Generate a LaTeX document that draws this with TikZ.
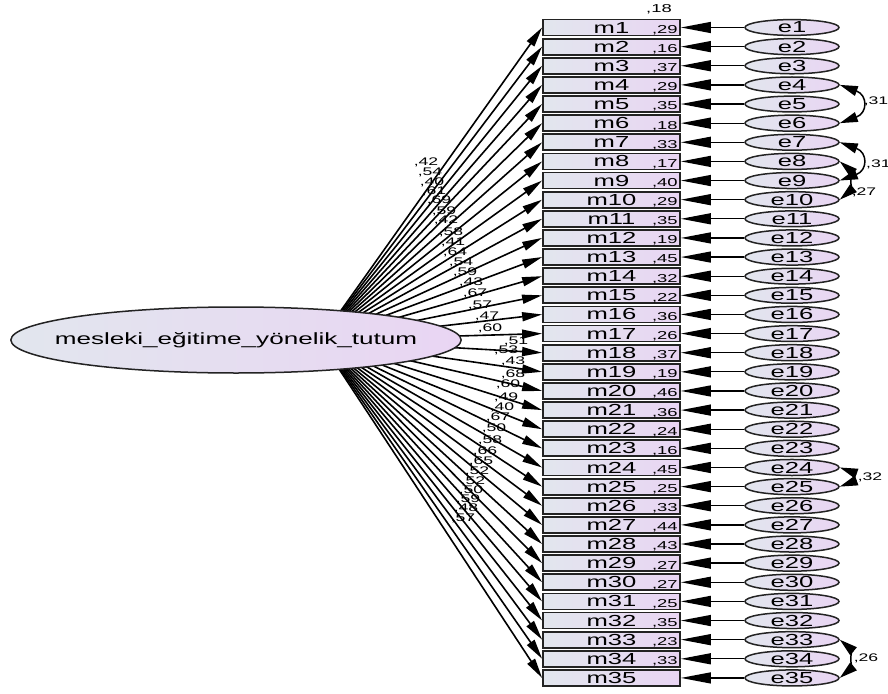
\documentclass[tikz,border=0pt]{standalone}
\usepackage{fontspec}
\setmainfont{Liberation Sans}[FakeStretch=1.6]
\usetikzlibrary{arrows.meta}
\usetikzlibrary{shapes}
\definecolor{boxleft}{RGB}{226,230,238}
\definecolor{boxright}{RGB}{233,213,243}
\definecolor{rim}{RGB}{35,35,35}

\begin{document}
\begin{tikzpicture}[x=1pt,y=-1pt,
  obs/.style={draw=rim, line width=1.8pt, left color=boxleft, right color=boxright,
    minimum width=137pt, minimum height=16pt, inner sep=0pt, font=\fontsize{16}{16}\selectfont},
  err/.style={ellipse, draw=rim, line width=1.5pt, left color=boxleft, right color=boxright,
    minimum width=94pt, minimum height=15pt, inner sep=0pt, font=\fontsize{16}{16}\selectfont},
  lat/.style={ellipse, draw=rim, line width=1.5pt, left color=boxleft, right color=boxright,
    minimum width=446pt, minimum height=66pt, inner xsep=-22pt, inner ysep=0pt,
    font=\fontsize{16.3}{16}\selectfont},
  rsq/.style={inner sep=0pt, font=\fontsize{11.5}{11.5}\selectfont},
  est/.style={inner sep=0pt, font=\fontsize{11}{11}\selectfont},
  path/.style={black, line width=1.6pt, -{Triangle[length=20pt,width=9pt]}},
  resid/.style={black, line width=1.3pt, -{Triangle[length=30pt,width=11pt]}},
  cov/.style={black, line width=1.5pt, {Triangle[length=18pt,width=10pt]}-{Triangle[length=18pt,width=10pt]}}]
\fill[white] (0,0) rectangle (888,693);
\useasboundingbox (0,0) rectangle (888,693);

%observed variables and errors
\foreach \i/\r in {1/{,29},2/{,16},3/{,37},4/{,29},5/{,35},6/{,18},7/{,33},8/{,17},9/{,40},10/{,29},
  11/{,35},12/{,19},13/{,45},14/{,32},15/{,22},16/{,36},17/{,26},18/{,37},19/{,19},20/{,46},
  21/{,36},22/{,24},23/{,16},24/{,45},25/{,25},26/{,33},27/{,44},28/{,43},29/{,27},30/{,27},
  31/{,25},32/{,35},33/{,23},34/{,33},35/{}}
{
  \pgfmathsetmacro\y{27.5+(\i-1)*19.13}
  \node[obs] (m\i) at (611.5,\y) {m\i};
  \node[rsq, anchor=base east] (r\i) at ([xshift=-3pt,yshift=3pt]m\i.south east) {\r};
  \node[err] (e\i) at (792,\y) {e\i};
  \draw[resid] (e\i) -- (m\i);
}
\node[rsq] (r0) at (659,9) {,18};

%covariances
\draw[cov] (e4.east) to[bend left=70, looseness=2] (e6.east);
\node[est] (c1) at (876,101) {,31};
\draw[cov] (e7.east) to[bend left=70, looseness=2] (e9.east);
\node[est, anchor=west] (c2) at (866,164) {,31};
\draw[cov] (e8.east) to[bend left=50, looseness=0.9] (e10.east);
\node[est] (c3) at (864,192) {,27};
\draw[cov] (e24.east) to[bend left=70, looseness=1.8] (e25.east);
\node[est] (c4) at (870,477) {,32};
\draw[cov] (e33.east) to[bend left=50, looseness=0.9] (e35.east);
\node[est] (c5) at (866,658) {,26};

%loadings
\coordinate (hub) at (320,340);
\foreach \i/\lx/\ly/\v in {1/426/162/{,42},2/430/172/{,54},3/432/182/{,40},4/434/191/{,61},
  5/439/200/{,69},6/444/211/{,59},7/446/220/{,42},8/451/232/{,58},9/453/242/{,41},
  10/455/252/{,64},11/461/262/{,54},12/465/272/{,59},13/471/282/{,43},14/475/293/{,67},
  15/480/305/{,57},16/487/316/{,47},17/490/328/{,60},18/516/341/{,51},19/506/350/{,53},
  20/513/361/{,43},21/513/374/{,68},22/508/384/{,60},23/506/397/{,49},24/502/407/{,40},
  25/498/417/{,67},26/494/428/{,50},27/490/440/{,58},28/485/451/{,66},29/481/461/{,65},
  30/477/471/{,52},31/473/481/{,52},32/471/490/{,50},33/468/499/{,59},34/466/508/{,48},
  35/463/518/{,57}}
{
  \node[est] (l\i) at (\lx,\ly) {\v};
  \draw[path] (hub) -- (m\i.west);
}

%latent variable
\node[lat] (tutum) at (236,340) {mesleki\_eğitime\_yönelik\_tutum};

\end{tikzpicture}
\end{document}
